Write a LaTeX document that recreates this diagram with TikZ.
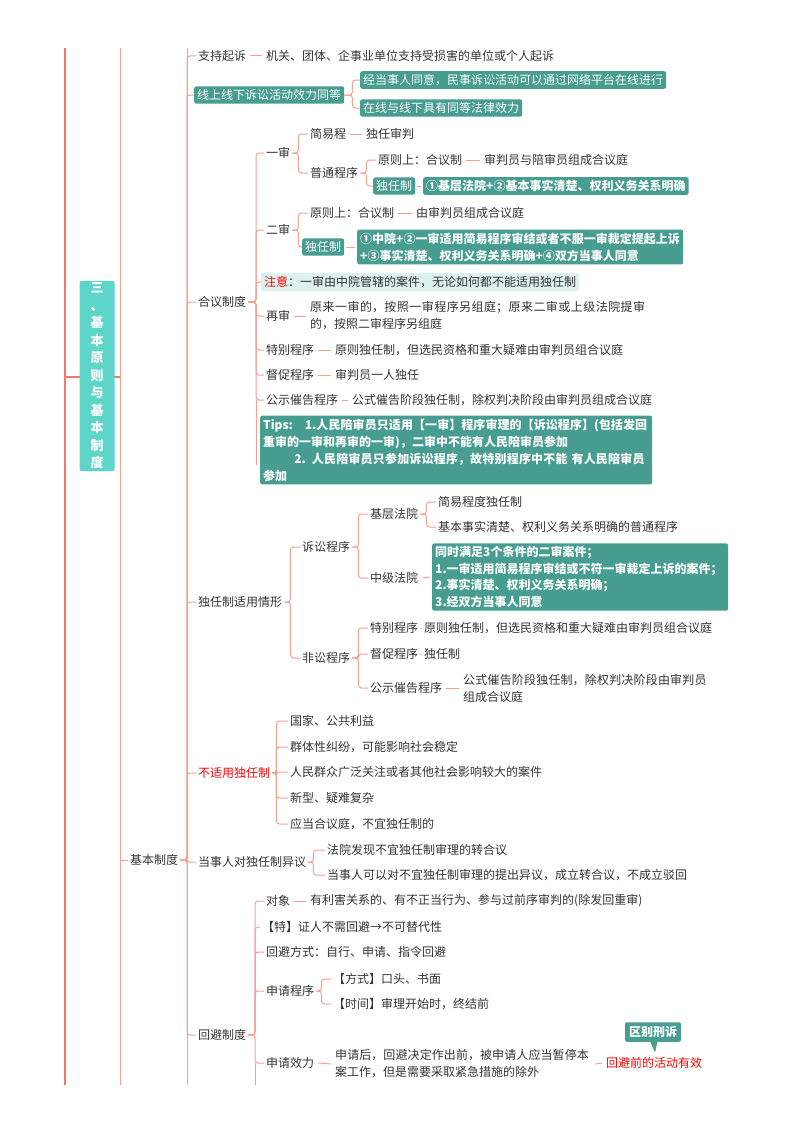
\documentclass[tikz,border=0pt]{standalone}
\usepackage{fontspec}
\setmainfont{Noto Sans CJK SC}
\XeTeXlinebreaklocale "zh"
\XeTeXlinebreakskip=0pt plus 1pt
\usetikzlibrary{shapes.callouts}
\definecolor{ln}{HTML}{F4A193}
\definecolor{lnd}{HTML}{EF7A67}
\definecolor{tl}{HTML}{479E90}
\definecolor{rt}{HTML}{5ED5C9}
\definecolor{tx}{HTML}{333333}
\definecolor{nt}{HTML}{DDF2EE}
\newcommand\brk[3]{\draw[conn] (#1.east) -- ++(#3,0) |- (#2.west);}
\newcommand\dsh[2]{\draw[conn] ([xshift=2pt]#1.east) -- ([xshift=-2pt]#2.west);}
\begin{document}
\begin{tikzpicture}[x=1pt,y=-1pt,
  every node/.style={font=\fontsize{12}{17}\selectfont,text=tx,inner sep=2pt,anchor=west},
  conn/.style={draw=ln,line width=1pt,rounded corners=3pt},
  tbox/.style={fill=tl,text=white,font=\fontsize{12}{17}\selectfont\bfseries,rounded corners=2pt,inner sep=3pt,align=left},
  lbox/.style={fill=tl,text=white,rounded corners=2pt,inner sep=3pt}]
\useasboundingbox (0,0) rectangle (800,1132);
% trunk lines
\draw[lnd,line width=2pt] (65,48) -- (65,1085);
\draw[ln,line width=1pt] (120,48) -- (120,1085);
\draw[ln,line width=1pt] (187,48) -- (187,1085);
\draw[lnd,line width=1.5pt] (65,377) -- (120,377);
\node[fill=rt,text=white,font=\fontsize{13}{17.5}\selectfont\bfseries,align=center,minimum width=35pt,minimum height=183pt,rounded corners=2pt,anchor=center] (root) at (97,376) {三\\、\\基\\本\\原\\则\\与\\基\\本\\制\\度};
\node (jb) at (128,860) {基本制度};
\draw[conn] (120,860) -- (jb.west);
% top level
\node (zc) at (196,56) {支持起诉};
\node (zc1) at (264,56) {机关、团体、企事业单位支持受损害的单位或个人起诉};
\node[lbox] (xs) at (194,95) {线上线下诉讼活动效力同等};
\node[lbox] (xs1) at (360,80) {经当事人同意，民事诉讼活动可以通过网络平台在线进行};
\node[lbox] (xs2) at (360,108) {在线与线下具有同等法律效力};
\node (hy) at (196,302) {合议制度};
\node (dr) at (196,602) {独任制适用情形};
\node[text=red] (bs) at (196,773) {不适用独任制};
\node (ds) at (196,862) {当事人对独任制异议};
\node (hb) at (196,1035) {回避制度};
\foreach \c in {zc,xs,hy,dr,bs,ds,hb} {\draw[conn] (jb.east) -- (187,0 |- jb.east) |- (\c.west);}
\dsh{zc}{zc1}
\brk{xs}{xs1}{8} \brk{xs}{xs2}{8}
% 合议制度
\node (ys) at (264,153) {一审};
\node (es) at (264,230) {二审};
\node[fill=nt,inner sep=3pt] (zy) at (261,282) {\textcolor{red}{注意}：一审由中院管辖的案件，无论如何都不能适用独任制};
\node (zs) at (264,316) {再审};
\node[align=left,text width=346pt] (zs1) at (308,316) {原来一审的，按照一审程序另组庭；原来二审或上级法院提审的，按照二审程序另组庭};
\node (tb) at (264,350) {特别程序};
\node (tb1) at (333,350) {原则独任制，但选民资格和重大疑难由审判员组合议庭};
\node (dc) at (264,375) {督促程序};
\node (dc1) at (333,375) {审判员一人独任};
\node (gs) at (264,400) {公示催告程序};
\node (gs1) at (350,400) {公式催告阶段独任制，除权判决阶段由审判员组成合议庭};
\node[tbox,text width=386pt] (tips) at (260,450) {Tips:\quad 1.人民陪审员只适用【一审】程序审理的【诉讼程序】(包括发回重审的一审和再审的一审)，二审中不能有人民陪审员参加\\\hspace*{2.6em}2. 人民陪审员只参加诉讼程序，故特别程序中不能 有人民陪审员参加};
\foreach \c in {ys,es,zy,zs,tb,dc,gs} {\draw[conn] (hy.east) -- (256,0 |- hy.east) |- (\c.west);}
\draw[conn] (256,400) -- (256,465);
\dsh{zs}{zs1} \dsh{tb}{tb1} \dsh{dc}{dc1} \dsh{gs}{gs1}
% 一审
\node (jy) at (308,134) {简易程};
\node (jy1) at (364,134) {独任审判};
\node (pt) at (308,173) {普通程序};
\node (pt1) at (376,160) {原则上：合议制};
\node (pt2) at (482,160) {审判员与陪审员组成合议庭};
\node[lbox,font=\fontsize{12}{17}\selectfont] (pt3) at (373,186) {独任制};
\node[tbox] (pt4) at (423,186) {①基层法院+②基本事实清楚、权利义务关系明确};
\brk{ys}{jy}{6} \brk{ys}{pt}{6}
\dsh{jy}{jy1}
\brk{pt}{pt1}{6} \brk{pt}{pt3}{6}
\dsh{pt1}{pt2} \dsh{pt3}{pt4}
% 二审
\node (ey1) at (308,213) {原则上：合议制};
\node (ey2) at (414,213) {由审判员组成合议庭};
\node[lbox] (ey3) at (302,247) {独任制};
\node[tbox,text width=320pt] (ey4) at (357,247) {①中院+②一审适用简易程序审结或者不服一审裁定提起上诉+③事实清楚、权利义务关系明确+④双方当事人同意};
\brk{es}{ey1}{6} \brk{es}{ey3}{6}
\dsh{ey1}{ey2} \dsh{ey3}{ey4}
% 独任制适用情形
\node (ss) at (300,547) {诉讼程序};
\node (fs) at (300,658) {非讼程序};
\brk{dr}{ss}{6} \brk{dr}{fs}{6}
\node (jc) at (368,514) {基层法院};
\node (zj) at (368,578) {中级法院};
\brk{ss}{jc}{6} \brk{ss}{zj}{6}
\node (jc1) at (436,502) {简易程度独任制};
\node (jc2) at (436,527) {基本事实清楚、权利义务关系明确的普通程序};
\brk{jc}{jc1}{6} \brk{jc}{jc2}{6}
\node[tbox,text width=290pt,font=\fontsize{12}{16.5}\selectfont\bfseries] (zj1) at (432,577) {同时满足3个条件的二审案件；\\1.一审适用简易程序审结或不符一审裁定上诉的案件；\\2.事实清楚、权利义务关系明确；\\3.经双方当事人同意};
\dsh{zj}{zj1}
\node (ft) at (368,628) {特别程序};
\node (ft1) at (422,628) {原则独任制，但选民资格和重大疑难由审判员组合议庭};
\node (fd) at (368,654) {督促程序};
\node (fd1) at (422,654) {独任制};
\node (fg) at (368,688) {公示催告程序};
\node[align=left,text width=248pt] (fg1) at (461,688) {公式催告阶段独任制，除权判决阶段由审判员组成合议庭};
\brk{fs}{ft}{6} \brk{fs}{fd}{6} \brk{fs}{fg}{6}
\dsh{ft}{ft1} \dsh{fd}{fd1} \dsh{fg}{fg1}
% 不适用独任制
\node (b1) at (288,721) {国家、公共利益};
\node (b2) at (288,747) {群体性纠纷，可能影响社会稳定};
\node (b3) at (288,772) {人民群众广泛关注或者其他社会影响较大的案件};
\node (b4) at (288,798) {新型、疑难复杂};
\node (b5) at (288,824) {应当合议庭，不宜独任制的};
\foreach \c in {b1,b2,b3,b4,b5} {\brk{bs}{\c}{4}}
% 异议
\node (d1) at (325,850) {法院发现不宜独任制审理的转合议};
\node (d2) at (325,875) {当事人可以对不宜独任制审理的提出异议，成立转合议，不成立驳回};
\brk{ds}{d1}{5} \brk{ds}{d2}{5}
% 回避制度
\node (h1) at (264,901) {对象};
\node (h11) at (308,901) {有利害关系的、有不正当行为、参与过前序审判的(除发回重审)};
\node (h2) at (260,927) {【特】证人不需回避→不可替代性};
\node (h3) at (264,952) {回避方式：自行、申请、指令回避};
\node (h4) at (264,991) {申请程序};
\node (h41) at (331,979) {【方式】口头、书面};
\node (h42) at (331,1004) {【时间】审理开始时，终结前};
\node (h5) at (264,1063) {申请效力};
\node[align=left,text width=256pt] (h51) at (333,1064) {申请后，回避决定作出前，被申请人应当暂停本案工作，但是需要采取紧急措施的除外};
\node[text=red] (h52) at (604,1063) {回避前的活动有效};
\foreach \c in {h1,h2,h3,h4,h5} {\draw[conn] (hb.east) -- (255,0 |- hb.east) |- (\c.west);}
\draw[conn] (255,1063) -- (255,1085);
\dsh{h1}{h11}
\brk{h4}{h41}{5} \brk{h4}{h42}{5}
\dsh{h5}{h51}
\dsh{h51}{h52}
\node[rectangle callout,fill=tl,text=white,font=\fontsize{12}{17}\selectfont\bfseries,rounded corners=2pt,inner sep=4pt,anchor=center,callout absolute pointer={(655,1053)}] (qb) at (653,1032) {区别刑诉};
\end{tikzpicture}
\end{document}
